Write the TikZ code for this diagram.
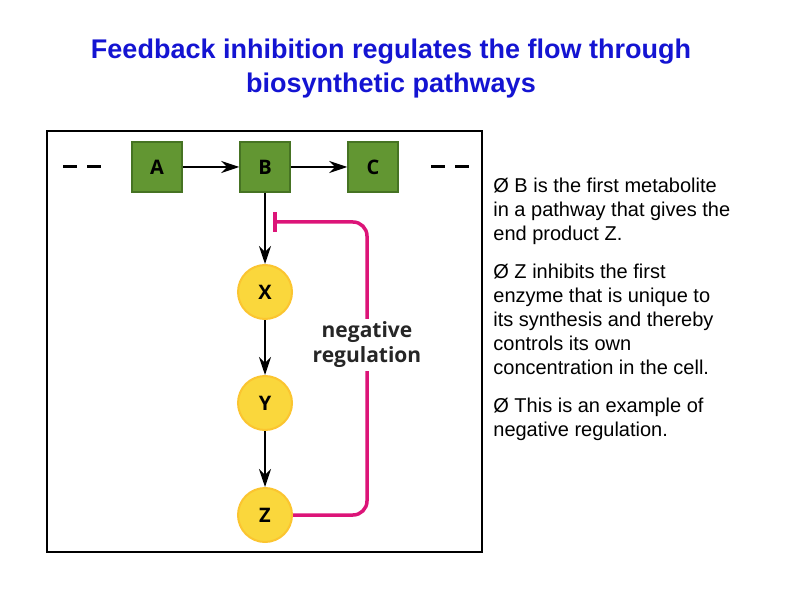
\documentclass[tikz,border=0pt]{standalone}
\usepackage{fontspec}
\setmainfont{Liberation Sans}
\newfontfamily\labelfont{Open Sans}
\usetikzlibrary{arrows.meta}
\definecolor{titleblue}{RGB}{20,20,210}
\definecolor{boxgreen}{RGB}{98,150,50}
\definecolor{boxedge}{RGB}{70,115,35}
\definecolor{ballyellow}{RGB}{250,215,60}
\definecolor{inhibpink}{RGB}{220,20,120}
\tikzset{every picture/.style={line width=0.75pt}}
\tikzset{
  metabox/.style={draw=boxedge,line width=1.5pt,fill=boxgreen,minimum size=50pt,inner sep=0pt,font=\labelfont\bfseries\fontsize{20}{20}\selectfont},
  metaball/.style={circle,fill=ballyellow,draw=ballyellow!80!orange,line width=2pt,minimum size=54pt,inner sep=0pt,font=\labelfont\bfseries\fontsize{20}{20}\selectfont},
  flow/.style={-{Stealth[length=18pt,width=12pt]},line width=1.5pt},
  bodytext/.style={anchor=north west,align=left,inner sep=0pt,font=\fontsize{20}{24}\selectfont}
}
\begin{document}
\begin{tikzpicture}[x=1pt,y=1pt,yscale=-1]
\useasboundingbox (0,0) rectangle (792,612);

% Title
\node[font=\bfseries\fontsize{27}{34}\selectfont,text=titleblue,align=center] (title) at (391,69) {Feedback inhibition regulates the flow through\\biosynthetic pathways};

% Frame
\draw[line width=2pt] (47,131) rectangle (482,552);

% Pathway
\node[metabox] (a) at (157,167) {A};
\node[metabox] (b) at (265,167) {B};
\node[metabox] (c) at (373,167) {C};
\node[metaball] (x) at (265,292) {X};
\node[metaball] (y) at (265,403) {Y};
\node[metaball] (z) at (265,515) {Z};
\coordinate (inl) at (63,167);
\coordinate (inr) at (107,167);
\coordinate (outl) at (431,167);
\coordinate (outr) at (475,167);
\draw[line width=3pt,dash pattern=on 14pt off 10pt] (inl) -- (inr);
\draw[line width=3pt,dash pattern=on 14pt off 10pt] (outl) -- (outr);
\draw[flow] (a) -- (b);
\draw[flow] (b) -- (c);
\draw[flow] (b) -- (x);
\draw[flow] (x) -- (y);
\draw[flow] (y) -- (z);

% Feedback
\coordinate (bar) at (273,222);
\draw[inhibpink,line width=3.5pt,rounded corners=14pt,{Bar[width=20pt]}-] (bar) -- (367,222) -- (367,515) -- (z.east);
\node[fill=white,inner sep=3pt,align=center,font=\labelfont\bfseries\fontsize{21}{25}\selectfont,text=black!85] (neg) at (367,345) {negative\\regulation};

% Notes
\node[bodytext] (notes) at (493,178) {Ø B is the first metabolite\\in a pathway that gives the\\end product Z.\\[14pt]Ø Z inhibits the first\\enzyme that is unique to\\its synthesis and thereby\\controls its own\\concentration in the cell.\\[14pt]Ø This is an example of\\negative regulation.};
\end{tikzpicture}
\end{document}
